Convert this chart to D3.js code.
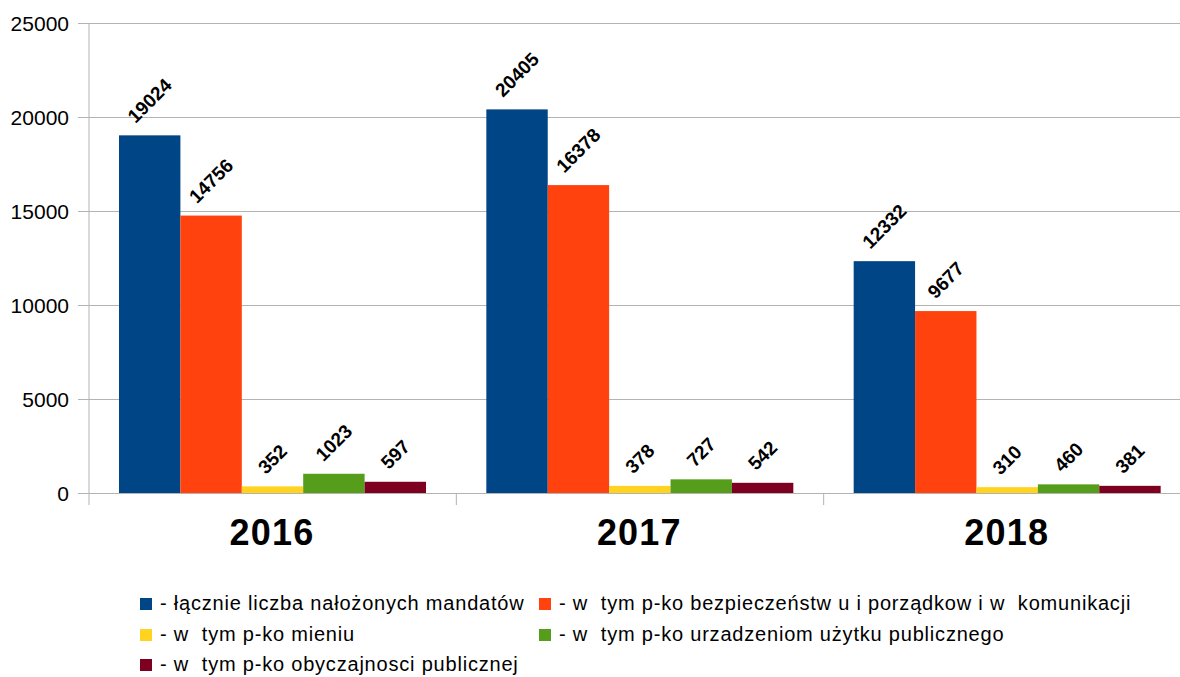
<!DOCTYPE html>
<html>
<head>
<meta charset="utf-8">
<style>
  body { margin: 0; background: #fff; }
  svg { font-family: 'Liberation Sans', Arial, sans-serif; display: block; }
  .grid line { stroke: #b3b3b3; }
  .grid .domain { display: none; }
  .ylab text { font-size: 21px; fill: #000; }
  .legend text { font-size: 20px; letter-spacing: 0.8px; white-space: pre; }
</style>
</head>
<body>
<svg width="1180" height="677"></svg>
<script src="https://d3js.org/d3.v7.min.js"></script>
<script>
const years = ["2016", "2017", "2018"];
const series = [
  "- łącznie liczba nałożonych mandatów",
  "- w  tym p-ko bezpieczeństw u i porządkow i w  komunikacji",
  "- w  tym p-ko mieniu",
  "- w  tym p-ko urzadzeniom użytku publicznego",
  "- w  tym p-ko obyczajnosci publicznej"
];
const colors = ["#004586", "#ff420e", "#ffd320", "#579d1c", "#7e0021"];
const values = [
  [19024, 14756, 352, 1023, 597],
  [20405, 16378, 378, 727, 542],
  [12332, 9677, 310, 460, 381]
];
const yTicks = [0, 5000, 10000, 15000, 20000, 25000];

const svg = d3.select("svg");
const plotL = 89, plotR = 1191, plotT = 23, plotB = 493;

const x = d3.scaleBand().domain(years).range([plotL, plotR]);
const xs = d3.scaleBand().domain(d3.range(series.length)).range([30, 337]);
const y = d3.scaleLinear().domain([0, 25000]).range([plotB, plotT]);

// gridlines
svg.append("g").attr("class", "grid")
  .attr("transform", `translate(${plotL},0)`)
  .call(d3.axisLeft(y).tickValues(yTicks).tickSize(-(plotR - plotL)).tickFormat(""))
  .call(g => g.selectAll("line").attr("x1", -11));

// y labels
svg.append("g").attr("class", "ylab")
  .selectAll("text").data(yTicks).join("text")
  .attr("x", 69).attr("y", d => y(d))
  .attr("text-anchor", "end").attr("dominant-baseline", "central")
  .text(d => d);

// axis lines
svg.append("line").attr("x1", plotL).attr("x2", plotL).attr("y1", plotT).attr("y2", plotB + 12)
  .attr("stroke", "#b3b3b3");
svg.selectAll(".xtick").data(years.slice(1)).join("line")
  .attr("x1", d => x(d)).attr("x2", d => x(d)).attr("y1", plotB).attr("y2", plotB + 12)
  .attr("stroke", "#b3b3b3");

// bars
const groups = svg.selectAll(".grp").data(years).join("g")
  .attr("transform", d => `translate(${x(d)},0)`);

groups.selectAll("rect").data((d, i) => values[i]).join("rect")
  .attr("x", (d, j) => xs(j)).attr("width", xs.bandwidth())
  .attr("y", d => y(d)).attr("height", d => plotB - y(d))
  .attr("fill", (d, j) => colors[j]);

groups.selectAll(".lbl").data((d, i) => values[i]).join("text")
  .attr("font-size", 19).attr("font-weight", "bold")
  .attr("text-anchor", "middle").attr("dominant-baseline", "central")
  .text(d => d)
  .each(function (d, j) {
    const len = this.getComputedTextLength();
    const h = (len + 19 * 0.75) * Math.SQRT1_2;
    const cx = xs(j) + xs.bandwidth() / 2;
    const cy = y(d) - 11 - h / 2;
    d3.select(this).attr("transform", `translate(${cx},${cy}) rotate(-45)`);
  });

// category labels
svg.selectAll(".cat").data(years).join("text")
  .attr("x", d => x(d) + 183).attr("y", 545)
  .attr("text-anchor", "middle").attr("font-size", 36).attr("font-weight", "bold")
  .attr("letter-spacing", 1.2)
  .text(d => d);

// legend
const legPos = [[140, 604], [539, 604], [140, 635], [539, 635], [140, 665]];
const leg = svg.append("g").attr("class", "legend");
series.forEach((s, i) => {
  const [lx, ly] = legPos[i];
  leg.append("rect").attr("x", lx).attr("y", ly - 6).attr("width", 12).attr("height", 12)
    .attr("fill", colors[i]);
  leg.append("text").attr("x", lx + 20).attr("y", ly + 6)
    .text(s);
});
</script>
</body>
</html>
